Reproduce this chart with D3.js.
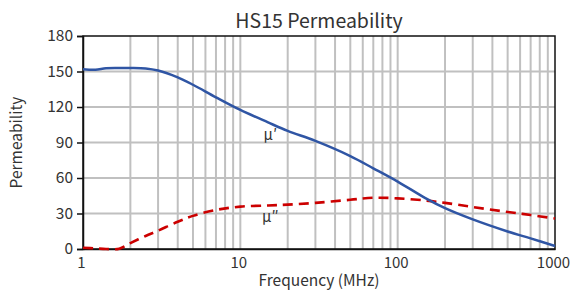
<!DOCTYPE html>
<html>
<head>
<meta http-equiv="Content-Type" content="text/html;charset=utf-8">
<script src="https://d3js.org/d3.v7.min.js"></script>
<style>
  body { margin: 0; background: #fff; }
  text { font-family: "Noto Sans CJK JP", "Noto Sans", sans-serif; fill: #333; }
</style>
</head>
<body>
<div id="chart"></div>
<script>
// frequency in MHz, permeability values
var freq    = [1, 1.2, 1.4, 1.7, 2, 2.5, 3, 4, 5, 7, 10, 15, 20, 30, 50, 70, 100, 150, 200, 300, 500, 700, 1000];
var muReal  = [152, 151.5, 152.8, 153, 153, 152.6, 150.8, 145, 138.8, 128.2, 117.5, 107, 99.8, 91.3, 78.5, 68.2, 57, 43, 34.5, 25, 14.8, 9, 2.5];
var muImag  = [1, 0.5, 0, 0.3, 5, 11, 15.5, 23, 28, 33, 35.8, 36.8, 37.5, 39, 41.6, 43.3, 42.8, 41, 39, 35.5, 31.3, 28.7, 25.8];

var yTicks = [0, 30, 60, 90, 120, 150, 180];
var xTicks = [1, 10, 100, 1000];

var W = 570, H = 292;
var margin = {top: 36, right: 15, bottom: 43, left: 83};
var w = W - margin.left - margin.right;
var h = H - margin.top - margin.bottom;

var svg = d3.select("#chart").append("svg")
    .attr("width", W)
    .attr("height", H);

var g = svg.append("g")
    .attr("transform", "translate(" + margin.left + "," + margin.top + ")");

var x = d3.scaleLog().domain([1, 1000]).range([0, w]);
var y = d3.scaleLinear().domain([0, 180]).range([h, 0]);

// minor + major grid
var gridX = [];
[1, 10, 100].forEach(function (d) {
  for (var k = 2; k <= 10; k++) gridX.push(d * k);
});
gridX = gridX.filter(function (d) { return d < 1000; });

g.selectAll(".vgrid").data(gridX).enter().append("line")
    .attr("x1", function (d) { return x(d); })
    .attr("x2", function (d) { return x(d); })
    .attr("y1", 0).attr("y2", h)
    .attr("stroke", "#c0c0c0").attr("stroke-width", 2);

g.selectAll(".hgrid").data(yTicks.slice(1, -1)).enter().append("line")
    .attr("x1", 0).attr("x2", w)
    .attr("y1", function (d) { return y(d); })
    .attr("y2", function (d) { return y(d); })
    .attr("stroke", "#c0c0c0").attr("stroke-width", 2);

// frame
g.append("rect")
    .attr("width", w).attr("height", h)
    .attr("fill", "none").attr("stroke", "#111").attr("stroke-width", 1.5);

// y axis
var yAxis = g.append("g")
    .call(d3.axisLeft(y).tickValues(yTicks).tickSize(6).tickPadding(4));
yAxis.select(".domain").attr("stroke", "#111").attr("stroke-width", 1.5);
yAxis.selectAll(".tick line").attr("stroke", "#111").attr("stroke-width", 1.5);
yAxis.selectAll("text").style("font-size", "15.5px").attr("fill", "#333");

// x axis
var xAxis = g.append("g")
    .attr("transform", "translate(0," + h + ")")
    .call(d3.axisBottom(x).tickValues(xTicks).tickFormat(d3.format("d")).tickSize(0).tickPadding(8));
xAxis.select(".domain").attr("stroke", "#111").attr("stroke-width", 1.5);
xAxis.selectAll("text").style("font-size", "15px").attr("fill", "#333").attr("dx", -2);

var line = d3.line()
    .x(function (d) { return x(d[0]); })
    .y(function (d) { return y(d[1]); })
    .curve(d3.curveCatmullRom.alpha(0.5));

g.append("path")
    .datum(d3.zip(freq, muImag))
    .attr("d", line)
    .attr("fill", "none")
    .attr("stroke", "#cc0000")
    .attr("stroke-width", 2.6)
    .attr("stroke-dasharray", "10,6");

g.append("path")
    .datum(d3.zip(freq, muReal))
    .attr("d", line)
    .attr("fill", "none")
    .attr("stroke", "#2f55a4")
    .attr("stroke-width", 2.5);

// curve labels
g.append("text").attr("x", x(15.5)).attr("y", y(92))
    .attr("text-anchor", "middle").style("font-size", "15px").text("μ′");
g.append("text").attr("x", x(15.5)).attr("y", y(23))
    .attr("text-anchor", "middle").style("font-size", "15px").text("μ″");

// titles
svg.append("text")
    .attr("x", margin.left + w / 2).attr("y", 28)
    .attr("text-anchor", "middle").style("font-size", "19.5px")
    .text("HS15 Permeability");

svg.append("text")
    .attr("x", margin.left + w / 2).attr("y", 286)
    .attr("text-anchor", "middle").style("font-size", "15.5px")
    .text("Frequency (MHz)");

svg.append("text")
    .attr("transform", "translate(22," + (margin.top + h / 2) + ") rotate(-90)")
    .attr("text-anchor", "middle").style("font-size", "15.5px")
    .text("Permeability");
</script>
</body>
</html>
